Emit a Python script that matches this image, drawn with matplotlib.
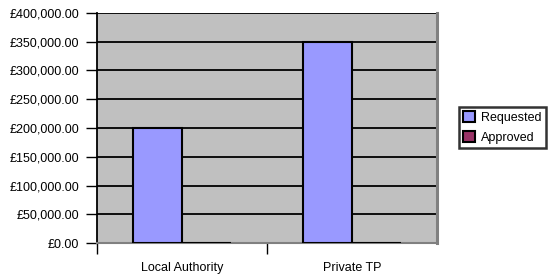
import matplotlib
matplotlib.use("Agg")
import matplotlib.pyplot as plt
from matplotlib.patches import Patch
import numpy as np

categories = ["Local Authority", "Private TP"]
requested = [200000, 350000]
approved = [0, 0]
series_names = ["Requested", "Approved"]
y_ticks = [0, 50000, 100000, 150000, 200000, 250000, 300000, 350000, 400000]

plt.rcParams['font.family'] = ['Liberation Sans', 'DejaVu Sans']

fig = plt.figure(figsize=(5.55, 2.8), dpi=100)
ax = fig.add_axes([97/555, 37/280, (437-97)/555, (243-13)/280])
ax.set_facecolor("#C0C0C0")

x = np.arange(len(categories))
w = 0.2857
ax.bar(x - w/2, requested, w, color="#9999FF", edgecolor="black", linewidth=1.5, zorder=3)
ax.bar(x + w/2, approved, w, color="#993366", edgecolor="black", linewidth=1.5, zorder=3)

ax.set_xlim(-0.5, len(categories) - 0.5)
ax.set_ylim(0, 400000)
ax.set_yticks(y_ticks)
ax.set_yticklabels([f"£{v:,.2f}" for v in y_ticks])
for v in y_ticks[1:]:
    ax.axhline(v, color="black", linewidth=1.3, zorder=2)

ax.set_xticks(np.arange(len(categories)) - 0.5)
ax.set_xticklabels([])
ax.set_xticks(x, minor=True)
ax.set_xticklabels(categories, minor=True)
ax.tick_params(axis="x", which="minor", length=0, pad=14, labelsize=9)
ax.tick_params(axis="x", which="major", length=8, width=1, color="black", direction="out")
ax.tick_params(axis="y", length=8, width=1, direction="out", pad=5, labelsize=9)

ax.spines["left"].set_color("black")
ax.spines["left"].set_linewidth(1.3)
ax.spines["top"].set_visible(False)
ax.spines["bottom"].set_color("#808080")
ax.spines["bottom"].set_linewidth(1.5)
ax.spines["right"].set_color("#808080")
ax.spines["right"].set_linewidth(2.2)

handles = [Patch(facecolor="#9999FF", edgecolor="black", linewidth=1.5),
           Patch(facecolor="#993366", edgecolor="black", linewidth=1.5)]
leg = fig.legend(handles, series_names, loc="upper left",
                 bbox_to_anchor=(459/555, 1 - 107/280), fontsize=9,
                 frameon=True, fancybox=False, handlelength=0.95, handleheight=0.95,
                 handletextpad=0.45, borderpad=0.35, labelspacing=0.55, borderaxespad=0)
leg.get_frame().set_edgecolor("black")
leg.get_frame().set_linewidth(1.8)

fig.savefig("out.png", dpi=100)
